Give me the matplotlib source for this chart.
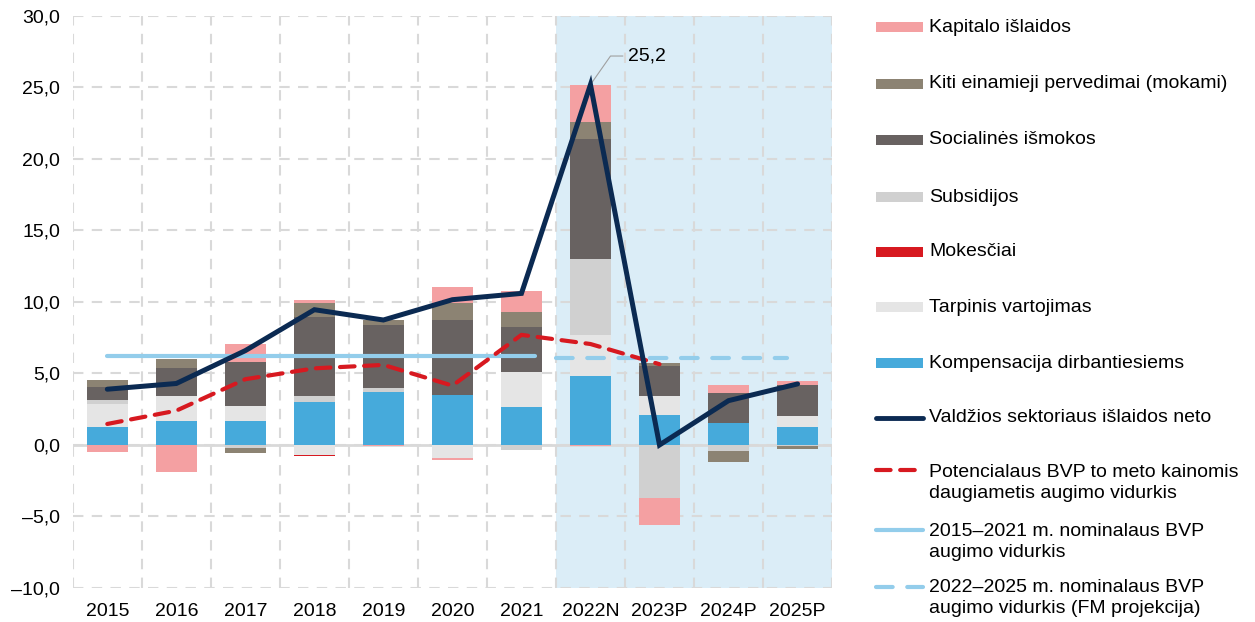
import matplotlib.pyplot as plt
import numpy as np

plt.rcParams['font.family'] = ['Liberation Sans', 'DejaVu Sans']

years = ['2015', '2016', '2017', '2018', '2019', '2020', '2021',
         '2022N', '2023P', '2024P', '2025P']

# components, positive parts (stacked from zero up)
komp_pos = [1.28, 1.68, 1.68, 3.0, 3.7, 3.5, 2.68, 4.8, 2.1, 1.54, 1.28]
tarp_pos = [1.59, 1.72, 1.02, 0.0, 0.0, 0.0, 2.45, 2.9, 1.3, 0.0, 0.72]
mok_pos = [0.0] * 11
subs_pos = [0.3, 0.0, 0.0, 0.4, 0.26, 0.0, 0.0, 5.3, 0.0, 0.0, 0.0]
soc_pos = [0.89, 2.0, 3.13, 5.57, 4.45, 5.24, 3.12, 8.4, 2.15, 2.1, 2.2]
kiti_pos = [0.46, 0.6, 0.0, 0.98, 0.33, 1.19, 1.07, 1.2, 0.15, 0.0, 0.0]
kap_pos = [0.0, 0.0, 1.23, 0.19, 0.0, 1.14, 1.43, 2.6, 0.0, 0.56, 0.3]

# negative parts (stacked from zero down)
subs_neg = [0.0, 0.0, -0.2, 0.0, 0.0, 0.0, -0.33, 0.0, -3.7, -0.4, -0.1]
tarp_neg = [0.0, 0.0, 0.0, -0.67, 0.0, -0.9, 0.0, 0.0, 0.0, 0.0, 0.0]
mok_neg = [0.0, 0.0, 0.0, -0.13, 0.0, 0.0, 0.0, 0.0, 0.0, 0.0, 0.0]
kiti_neg = [0.0, 0.0, -0.35, 0.0, 0.0, 0.0, 0.0, 0.0, 0.0, -0.77, -0.2]
kap_neg = [-0.5, -1.87, 0.0, 0.0, -0.1, -0.13, 0.0, -0.1, -1.9, 0.0, 0.0]

islaidos_neto = [3.9, 4.3, 6.6, 9.46, 8.74, 10.16, 10.6, 25.2, 0.0, 3.1, 4.27]
potencialus = [1.47, 2.4, 4.6, 5.36, 5.6, 4.15, 7.7, 7.06, 5.65]
vid_2015_2021 = [6.2] * 7
vid_2022_2025 = [6.1] * 4

c_kap = '#F4A0A2'
c_kiti = '#8C8373'
c_soc = '#686261'
c_subs = '#D0D0D0'
c_mok = '#D71920'
c_tarp = '#E5E5E5'
c_komp = '#46AADB'
c_line = '#0B2A52'
c_lblue = '#93CDEB'

fig = plt.figure(figsize=(12.55, 6.22), dpi=100)
ax = fig.add_axes([0.058, 0.0547, 0.605, 0.9196])

x = np.arange(len(years))
w = 0.6

# projection period shading
ax.axvspan(6.5, 10.5, color='#DBEDF7', zorder=0, lw=0)

pos_series = [(komp_pos, c_komp), (tarp_pos, c_tarp), (mok_pos, c_mok),
              (subs_pos, c_subs), (soc_pos, c_soc), (kiti_pos, c_kiti),
              (kap_pos, c_kap)]
bottom = np.zeros(len(years))
for vals, col in pos_series:
    ax.bar(x, vals, w, bottom=bottom, color=col, zorder=2, lw=0)
    bottom += np.array(vals)

neg_series = [(subs_neg, c_subs), (tarp_neg, c_tarp), (mok_neg, c_mok),
              (kiti_neg, c_kiti), (kap_neg, c_kap)]
bottom = np.zeros(len(years))
for vals, col in neg_series:
    ax.bar(x, vals, w, bottom=bottom, color=col, zorder=2, lw=0)
    bottom += np.array(vals)

# average lines sit on a slightly stretched x range in the original
x_sol = np.linspace(x[0], x[6] + 0.2, len(vid_2015_2021))
x_dash = np.linspace(x[7] - 0.5, x[10] - 0.15, len(vid_2022_2025))
ax.plot(x_sol, vid_2015_2021, color=c_lblue, lw=3, zorder=3,
        solid_capstyle='round')
ax.plot(x_dash, vid_2022_2025, color=c_lblue, lw=3, zorder=3,
        dashes=(4, 3.5), dash_capstyle='round')
ax.plot(x[:len(potencialus)], potencialus, color=c_mok, lw=3, zorder=4,
        dashes=(3.5, 2.3), dash_capstyle='round')
ax.plot(x, islaidos_neto, color=c_line, lw=3.6, zorder=5,
        solid_capstyle='round', solid_joinstyle='miter')

peak = int(np.argmax(islaidos_neto))
ax.annotate(f'{islaidos_neto[peak]:.1f}'.replace('.', ','),
            xy=(x[peak], islaidos_neto[peak]),
            xytext=(x[peak] + 0.55, islaidos_neto[peak] + 2.0),
            fontsize=14, va='center', ha='left',
            arrowprops=dict(arrowstyle='-', color='#A0A0A0', lw=0.8,
                            shrinkA=2, shrinkB=0,
                            connectionstyle='angle,angleA=0,angleB=55,rad=0'))

ax.set_xlim(-0.5, 10.5)
ax.set_ylim(-10, 30)
ax.set_yticks(np.arange(-10, 31, 5))
ax.set_yticklabels([f'{v:.1f}'.replace('.', ',').replace('-', '–') for v in np.arange(-10, 31, 5)],
                   fontsize=14)
ax.set_xticks(x)
ax.set_xticklabels(years, fontsize=14)
ax.set_xticks(np.arange(-0.5, 10.6, 1), minor=True)
ax.tick_params(which='both', length=0)
ax.tick_params(axis='x', pad=11)
ax.tick_params(axis='y', pad=9)
ax.grid(axis='y', which='major', color='#D9D9D9', ls=(0, (5, 4)), lw=1.5, zorder=1)
ax.grid(axis='x', which='minor', color='#D9D9D9', ls=(0, (5, 4)), lw=1.5, zorder=1)
ax.grid(axis='x', which='major', visible=False)
ax.axhline(0, color='#D9D9D9', lw=2, zorder=1.5)
for s in ax.spines.values():
    s.set_visible(False)

# legend drawn in figure pixels
W, H = 1255, 622
def px(xp, yp):
    return xp / W, 1 - yp / H

bar_items = [('Kapitalo išlaidos', c_kap, 27), ('Kiti einamieji pervedimai (mokami)', c_kiti, 84),
             ('Socialinės išmokos', c_soc, 140), ('Subsidijos', c_subs, 197),
             ('Mokesčiai', c_mok, 252), ('Tarpinis vartojimas', c_tarp, 307),
             ('Kompensacija dirbantiesiems', c_komp, 363)]
for label, col, yp in bar_items:
    x0, y0 = px(876, yp + 5)
    fig.add_artist(plt.Rectangle((x0, y0), 47 / W, 10 / H, color=col,
                                 transform=fig.transFigure, lw=0))
    fig.text(*px(929, yp), label, fontsize=14, va='center', ha='left')

line_items = [('Valdžios sektoriaus išlaidos neto', c_line, 418, '-', 3.5, 1),
              ('Potencialaus BVP to meto kainomis\ndaugiametis augimo vidurkis', c_mok, 483, (0, (3.5, 2.3)), 3, 470),
              ('2015–2021 m. nominalaus BVP\naugimo vidurkis', c_lblue, 542, '-', 3, 530),
              ('2022–2025 m. nominalaus BVP\naugimo vidurkis (FM projekcija)', c_lblue, 598, (0, (4, 3.5)), 3, 587)]
for label, col, yp, ls, lw, ly in line_items:
    if ly == 1:
        ly = yp
    xa, ya = px(876, ly)
    xb, _ = px(923, ly)
    fig.add_artist(plt.Line2D([xa, xb], [ya, ya], color=col, lw=lw, ls=ls,
                              transform=fig.transFigure, solid_capstyle='round',
                              dash_capstyle='round'))
    fig.text(*px(929, yp), label, fontsize=14, va='center', ha='left',
             linespacing=1.35)

fig.savefig('out.png', dpi=100)
